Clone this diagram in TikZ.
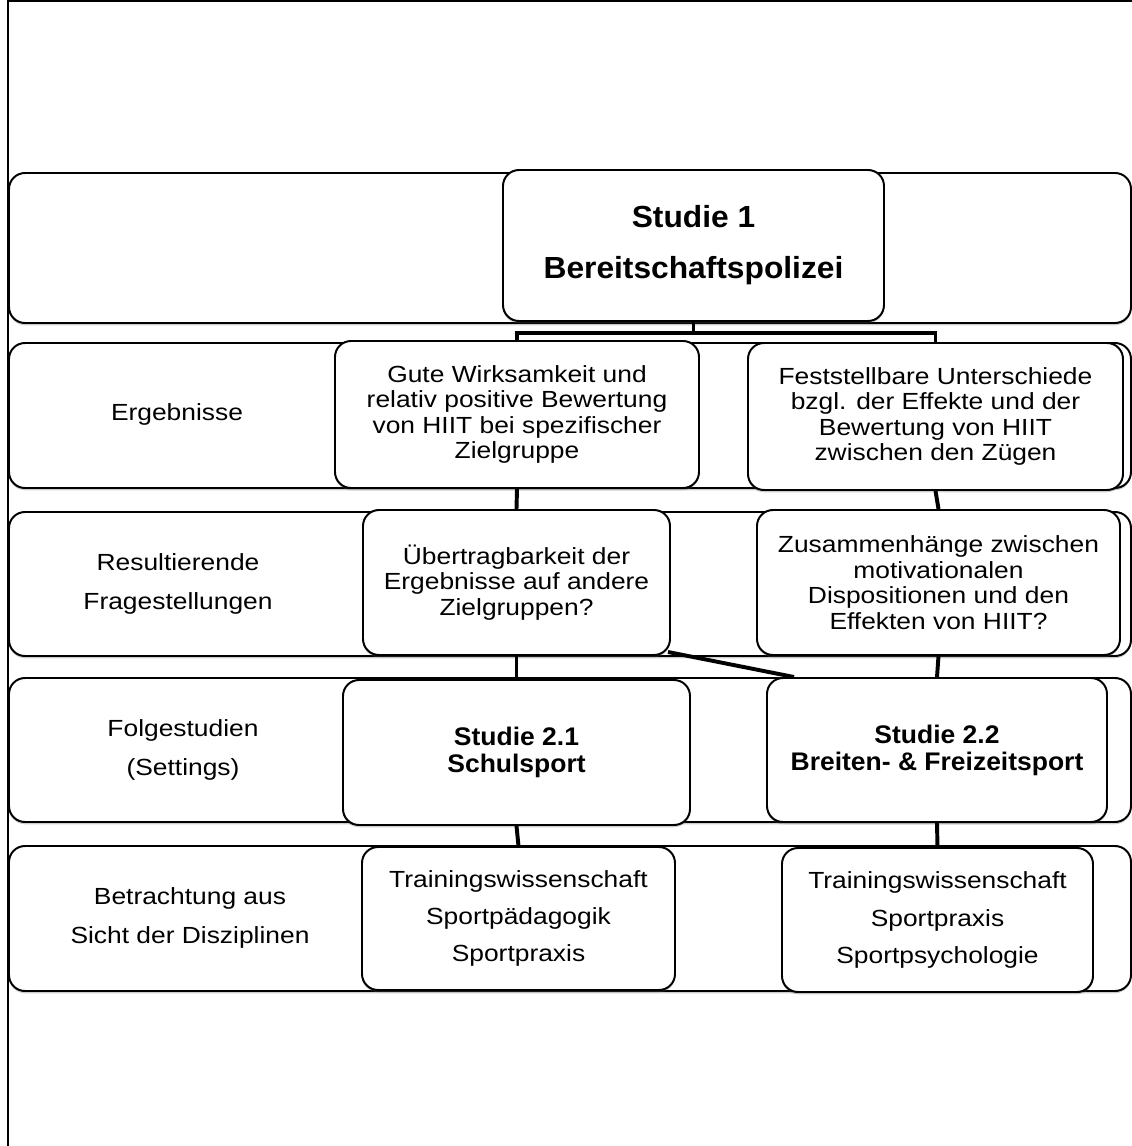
\documentclass[tikz,border=0pt]{standalone}
\usepackage{fontspec}
\setmainfont[FakeStretch=1.13]{Liberation Sans}
\newfontfamily\titlefont[FakeStretch=1.04]{Liberation Sans}
\usepackage{tikz}
\usetikzlibrary{shadows,calc}
\definecolor{cLine}{RGB}{0,0,0}
\definecolor{cShade}{RGB}{90,90,90}

\begin{document}
\begin{tikzpicture}[x=0.025cm,y=-0.025cm,
  shade/.style={drop shadow={shadow xshift=0pt,shadow yshift=-1.6pt,opacity=.3,fill=cShade}},
  rowbox/.style={draw=cLine,line width=1.4pt,fill=white,rounded corners=0.4cm,shade,
    minimum width=1122*0.025cm,minimum height=#1*0.025cm},
  stbox/.style 2 args={draw=cLine,line width=1.4pt,fill=white,rounded corners=0.4cm,shade,
    minimum width=#1*0.025cm,minimum height=#2*0.025cm,inner sep=0pt,
    align=center,font=\fontsize{16.6pt}{18.2pt}\selectfont},
  lab/.style={align=center,font=\fontsize{16.6pt}{27.2pt}\selectfont},
  wide/.style={font=\fontsize{16.6pt}{26.6pt}\selectfont},
  bigbold/.style={font=\titlefont\bfseries\fontsize{21.7pt}{36.3pt}\selectfont},
  smallbold/.style={font=\titlefont\bfseries\fontsize{18.1pt}{19.2pt}\selectfont},
  link/.style={draw=cLine,line width=2.8pt}]
\useasboundingbox (0,0) rectangle (1132,1146);
\clip (0,0) rectangle (1132,1146);
\draw[cLine,line width=0.9pt] (8,1) rectangle (1160,1170);
\node[rowbox=150] (r0) at (570,248) {};
\node[rowbox=145] (r1) at (570,415.5) {};
\node[rowbox=144] (r2) at (570,584) {};
\node[rowbox=144] (r3) at (570,750) {};
\node[rowbox=145] (r4) at (570,918.5) {};
\node[lab] (l1) at (177,414) {Ergebnisse};
\node[lab] (l2) at (178,584) {Resultierende\\Fragestellungen};
\node[lab] (l3) at (183,750) {Folgestudien\\(Settings)};
\node[lab] (l4) at (190,918) {Betrachtung aus\\Sicht der Disziplinen};
\node[stbox={381}{151},bigbold] (s1) at (693.5,245.5) {Studie 1\\Bereitschaftspolizei};
\node[stbox={364}{147}] (e1) at (517,414.5) {Gute Wirksamkeit und\\relativ positive Bewertung\\von HIIT bei spezifischer\\Zielgruppe};
\node[stbox={375}{147}] (e2) at (935.5,416.5) {Feststellbare Unterschiede\\bzgl. der Effekte und der\\Bewertung von HIIT\\zwischen den Zügen};
\node[stbox={307}{145}] (f1) at (516.5,582.5) {Übertragbarkeit der\\Ergebnisse auf andere\\Zielgruppen?};
\node[stbox={363}{145}] (f2) at (938.5,582.5) {Zusammenhänge zwischen\\motivationalen\\Dispositionen und den\\Effekten von HIIT?};
\node[stbox={347}{145},smallbold] (s21) at (516.5,752.5) {Studie 2.1\\Schulsport};
\node[stbox={340}{144},smallbold] (s22) at (937,750) {Studie 2.2\\Breiten- \& Freizeitsport};
\node[stbox={313}{143},wide] (d1) at (518.5,918.5) {Trainingswissenschaft\\Sportpädagogik\\Sportpraxis};
\node[stbox={311}{144},wide] (d2) at (937.5,920) {Trainingswissenschaft\\Sportpraxis\\Sportpsychologie};
\draw[link] (s1.south) -- ++(0,11) -| (e1.north);
\draw[link] (s1.south) -- ++(0,11) -| (e2.north);
\draw[link] (e1.south) -- (f1.north);
\draw[link] (e2.south) -- (f2.north);
\draw[link] (f1.south) -- (s21.north);
\draw[link] ($(f1.south east)+(-3,-4)$) -- ($(s22.north west)+(28,0)$);
\draw[link] (f2.south) -- (s22.north);
\draw[link] (s21.south) -- (d1.north);
\draw[link] (s22.south) -- (d2.north);
\end{tikzpicture}
\end{document}
